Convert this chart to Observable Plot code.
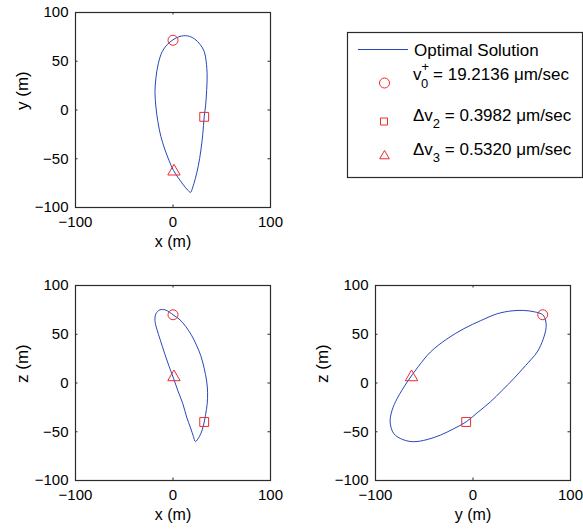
<!DOCTYPE html>
<html>
<head>
<meta charset="utf-8">
<script src="https://cdn.jsdelivr.net/npm/d3@7"></script>
<script src="https://cdn.jsdelivr.net/npm/@observablehq/plot@0.6"></script>
<style>
  html, body { margin: 0; padding: 0; background: #fff; }
  #root { position: relative; width: 583px; height: 532px; overflow: hidden; font-family: "Liberation Sans", Arial, Helvetica, sans-serif; }
  .panel { position: absolute; }
  .panel svg { overflow: visible; }
  #legend { position: absolute; left: 0; top: 0; }
</style>
</head>
<body>
<div id="root"></div>
<script>
// ---------- data ----------
const xTicks = [-100, 0, 100];
const yTicks = [-100, -50, 0, 50, 100];

// x–y projection of the optimal trajectory (m)
const xyX = [0, 7, 15, 22, 28, 32, 34, 35, 34.5, 33.5, 32, 30.5, 28.5, 26, 23, 20, 18, 15, 10, 5, 0.5, -4, -8.5, -12.5, -15.5, -17.5, -18.5, -17.5, -15, -11, -6];
const xyY = [72, 75.5, 76, 73, 67, 60, 50, 35, 20, 5, -7, -25, -42, -57, -70, -80, -84.5, -82, -76, -69, -62, -52, -40, -27, -12, 3, 18, 33, 48, 60, 67];

// x–z projection (m)
const xzX = [0, 7, 13, 19, 24, 28.5, 32, 34.5, 35.5, 35, 33.5, 32, 30, 27, 23, 21, 18, 14, 10, 5, 0.5, -4, -8.5, -13, -16.5, -18.5, -17.5, -13.5, -8, -3.5];
const xzZ = [70, 65, 58, 49, 39, 28, 15, 2, -10, -22, -32, -40, -48, -55, -60, -55, -46, -35, -21, -8, 5, 17, 30, 44, 55, 64, 71, 75, 75, 72.5];

// y–z projection (m)
const yzY = [71.5, 74.5, 75, 72, 65.8, 54, 41.9, 30, 17.9, 5, -7, -20, -33.3, -47, -60.7, -72, -81.2, -85, -83, -77.7, -67.5, -56, -43.6, -27, -9.4, 8, 24.8, 40, 52, 63];
const yzZ = [70, 64, 57, 45, 31.8, 18, 4.6, -7.5, -19.3, -30, -39.8, -47, -53.4, -58, -60.2, -58, -52, -40, -28, -15.8, 1, 17, 31.8, 45, 55.7, 64, 71, 74, 74.4, 73];

// impulse locations (m)
const markerSymbols = ["circle", "square", "triangle"];
const markerX = [0, 32, 1];
const markerY = [71.5, -7, -63];
const markerZ = [70, -40, 6];

const legendLabels = ["Optimal Solution", "19.2136", "0.3982", "0.5320"];

// ---------- styles ----------
const BLUE = "#2747b8";
const RED = "#ee2a2f";
const FRAME = "#2b2b2b";
const FONT = '"Liberation Sans", Arial, Helvetica, sans-serif';

function toPts(a, b) { return a.map((v, i) => ({a: v, b: b[i]})); }

function panel({pts, ma, mb, xLabel, yLabel, width, marginRight}) {
  const H = 260, MT = 12, MB = 53, ML = 75;
  const fh = H - MT - MB;
  const markers = markerSymbols.map((s, i) => ({s, a: ma[i], b: mb[i]}));
  return Plot.plot({
    width, height: H,
    marginLeft: ML, marginRight, marginTop: MT, marginBottom: MB,
    style: {fontFamily: FONT, fontSize: "15px", color: "#000", background: "transparent", overflow: "visible"},
    x: {domain: [-100, 100], ticks: xTicks, tickSize: 0, tickPadding: 9, label: null},
    y: {domain: [-100, 100], ticks: yTicks, tickSize: 0, tickPadding: 7, label: null},
    marks: [
      Plot.tickX(xTicks, {x: d => d, insetTop: fh - 2.5, stroke: FRAME}),
      Plot.tickX(xTicks, {x: d => d, insetBottom: fh - 2.5, stroke: FRAME}),
      Plot.tickY(yTicks, {y: d => d, insetRight: fh - 2.5, stroke: FRAME}),
      Plot.tickY(yTicks, {y: d => d, insetLeft: fh - 2.5, stroke: FRAME}),
      Plot.frame({stroke: FRAME, strokeWidth: 1.2}),
      Plot.line(pts, {x: "a", y: "b", curve: "catmull-rom-closed", stroke: BLUE, strokeWidth: 1}),
      Plot.dot(markers.filter(d => d.s === "circle"), {x: "a", y: "b", symbol: "circle", r: 5, stroke: RED, fill: "none", strokeWidth: 1}),
      Plot.dot(markers.filter(d => d.s === "square"), {x: "a", y: "b", symbol: "square", r: 5, stroke: RED, fill: "none", strokeWidth: 1}),
      Plot.dot(markers.filter(d => d.s === "triangle"), {x: "a", y: "b", symbol: "triangle", r: 4.6, stroke: RED, fill: "none", strokeWidth: 1}),
      Plot.text([xLabel], {text: d => d, frameAnchor: "bottom", dy: 39, fontSize: 16, fill: "#000"}),
      Plot.text([yLabel], {text: d => d, frameAnchor: "left", dx: -53, rotate: -90, fontSize: 17, fill: "#000"})
    ]
  });
}

const root = document.getElementById("root");
function place(node, left, top) {
  const d = document.createElement("div");
  d.className = "panel";
  d.style.left = left + "px";
  d.style.top = top + "px";
  d.appendChild(node);
  root.appendChild(d);
}

place(panel({pts: toPts(xyX, xyY), ma: markerX, mb: markerY, xLabel: "x (m)", yLabel: "y (m)", width: 290, marginRight: 20}), 0, 0);
place(panel({pts: toPts(xzX, xzZ), ma: markerX, mb: markerZ, xLabel: "x (m)", yLabel: "z (m)", width: 290, marginRight: 20}), 0, 273);
place(panel({pts: toPts(yzY, yzZ), ma: markerY, mb: markerZ, xLabel: "y (m)", yLabel: "z (m)", width: 283, marginRight: 13}), 300, 273);

// ---------- legend ----------
const lg = d3.select(root).append("svg")
  .attr("id", "legend")
  .attr("width", 583).attr("height", 200)
  .style("font-family", FONT).style("font-size", "17px");

lg.append("rect").attr("x", 347.5).attr("y", 32.5).attr("width", 235).attr("height", 145)
  .attr("fill", "#fff").attr("stroke", FRAME).attr("stroke-width", 1.2);

lg.append("line").attr("x1", 358).attr("x2", 408).attr("y1", 49.5).attr("y2", 49.5)
  .attr("stroke", BLUE).attr("stroke-width", 1);
lg.append("text").attr("x", 414).attr("y", 56).text(legendLabels[0]);

const sym = (type, size) => d3.symbol().type(type).size(size)();
lg.append("path").attr("d", sym(d3.symbolCircle, Math.PI * 25)).attr("transform", "translate(384.5,83)")
  .attr("fill", "none").attr("stroke", RED);
lg.append("path").attr("d", sym(d3.symbolSquare2, Math.PI * 25 * 0.8)).attr("transform", "translate(384,121.5)")
  .attr("fill", "none").attr("stroke", RED);
lg.append("path").attr("d", sym(d3.symbolTriangle2, Math.PI * 4.6 * 4.6)).attr("transform", "translate(384.5,156)")
  .attr("fill", "none").attr("stroke", RED);

// row 2: v_0^+
const t2 = lg.append("text").attr("x", 413).attr("y", 80);
t2.append("tspan").text("v");
t2.append("tspan").attr("font-size", 13).attr("dy", -9).text("+");
t2.append("tspan").attr("font-size", 13).attr("dx", -8).attr("dy", 17).text("0");
t2.append("tspan").attr("dy", -8).text(" = " + legendLabels[1] + " \u03bcm/sec");

const t3 = lg.append("text").attr("x", 413).attr("y", 121);
t3.append("tspan").text("\u0394v");
t3.append("tspan").attr("font-size", 13).attr("dy", 7).text("2");
t3.append("tspan").attr("dy", -7).text(" = " + legendLabels[2] + " \u03bcm/sec");

const t4 = lg.append("text").attr("x", 413).attr("y", 155);
t4.append("tspan").text("\u0394v");
t4.append("tspan").attr("font-size", 13).attr("dy", 7).text("3");
t4.append("tspan").attr("dy", -7).text(" = " + legendLabels[3] + " \u03bcm/sec");
</script>
</body>
</html>
